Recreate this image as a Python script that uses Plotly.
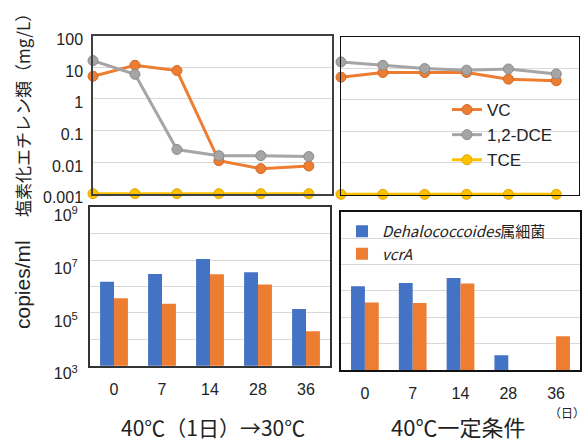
import plotly.graph_objects as go

# ---------------- data ----------------
days = [0, 7, 14, 21, 28, 36]
vc_a = [5.2, 11.6, 7.9, 0.011, 0.0062, 0.0075]
dce_a = [16.3, 6.0, 0.025, 0.016, 0.016, 0.015]
tce_a = [0.001, 0.001, 0.001, 0.001, 0.001, 0.001]
vc_b = [5.2, 7.3, 7.3, 7.3, 4.5, 4.0]
dce_b = [15.8, 12.4, 9.8, 8.7, 9.5, 6.6]
tce_b = [0.001, 0.001, 0.001, 0.001, 0.001, 0.001]

bar_days = ["0", "7", "14", "28", "36"]
dhc_a = [1.5e6, 3.0e6, 1.1e7, 3.5e6, 1.4e5]
vcra_a = [3.6e5, 2.2e5, 2.9e6, 1.2e6, 2.0e4]
dhc_b = [1.5e6, 2.0e6, 3.1e6, 3.6e3, None]
vcra_b = [3.6e5, 3.5e5, 1.9e6, None, 1.9e4]

conc_ticks = [0.001, 0.01, 0.1, 1, 10, 100]
conc_labels = ["0.001", "0.01", "0.1", "1", "10", "100"]
copy_ticks = [1e3, 1e4, 1e5, 1e6, 1e7, 1e8, 1e9]
copy_labels = ["10<sup>3</sup>", "", "10<sup>5</sup>", "", "10<sup>7</sup>", "", "10<sup>9</sup>"]

line_names = ["VC", "1,2-DCE", "TCE"]
bar_names = ["<i>Dehalococcoides</i>属細菌", "<i>vcrA</i>"]

# ---------------- style ----------------
W, H = 586, 442
ORANGE, GRAY, YELLOW, BLUE = "#ED7D31", "#A5A5A5", "#FFC000", "#4472C4"
EDGE = {"#ED7D31": "#D0692A", "#A5A5A5": "#8C8C8C", "#FFC000": "#E0A800"}
NUM_FONT = "Liberation Sans, Arial, sans-serif"
JP_FONT = "Noto Sans CJK JP, sans-serif"


def dx(a, b):
    return [a / W, b / W]


def dy(top, bottom):
    return [1 - bottom / H, 1 - top / H]


fig = go.Figure()

line_sets = [
    ("x", "y", [vc_a, dce_a, tce_a], False),
    ("x2", "y2", [vc_b, dce_b, tce_b], True),
]
for xa, ya, series, show in line_sets:
    for name, vals, col in zip(line_names, series, [ORANGE, GRAY, YELLOW]):
        fig.add_trace(go.Scatter(
            x=days, y=vals, name=name, xaxis=xa, yaxis=ya,
            mode="lines+markers", cliponaxis=False,
            line=dict(color=col, width=3),
            marker=dict(symbol="circle", size=10, color=col,
                        line=dict(color=EDGE[col], width=1)),
            showlegend=show, legend="legend",
        ))

bar_sets = [
    ("x3", "y3", [dhc_a, vcra_a], False),
    ("x4", "y4", [dhc_b, vcra_b], True),
]
for xa, ya, series, show in bar_sets:
    for name, vals, col in zip(bar_names, series, [BLUE, ORANGE]):
        fig.add_trace(go.Bar(
            x=bar_days, y=vals, name=name, xaxis=xa, yaxis=ya,
            marker=dict(color=col, line=dict(width=0)),
            showlegend=show, legend="legend2",
        ))

grid = "#D9D9D9"
common_x_top = dict(range=[0, 39.8], showticklabels=False, ticks="", automargin=False,
                    showgrid=False, zeroline=False, showline=True, mirror=True)
common_y_top = dict(type="log", range=[-3.02, 2], tickvals=conc_ticks, automargin=False,
                    showgrid=True, gridcolor=grid, gridwidth=1, zeroline=False,
                    showline=True, mirror=True, ticks="")
common_x_bot = dict(type="category", showgrid=False, zeroline=False, automargin=False,
                    showline=True, mirror=True, ticks="",
                    tickfont=dict(family=NUM_FONT, size=16, color="#222"),
                    ticklabelstandoff=8)
common_y_bot = dict(type="log", range=[3, 9], tickvals=copy_ticks, automargin=False,
                    showgrid=True, gridcolor=grid, gridwidth=1, zeroline=False,
                    showline=True, mirror=True, ticks="")


def note(text, xp, yp, size, font=JP_FONT, angle=0):
    return dict(text=text, x=xp / W, y=1 - yp / H, xref="paper", yref="paper",
                xanchor="center", yanchor="middle", textangle=angle, showarrow=False,
                font=dict(family=font, size=size, color="#222"))


fig.update_layout(
    width=W, height=H,
    margin=dict(l=0, r=0, t=0, b=0, autoexpand=False),
    paper_bgcolor="white", plot_bgcolor="white",
    barmode="group", bargap=0.42, bargroupgap=0,
    xaxis=dict(domain=dx(93, 331.6), anchor="y", linecolor="#404040", linewidth=1.5, **common_x_top),
    yaxis=dict(domain=dy(35.7, 194.3), anchor="x", ticktext=conc_labels,
               tickfont=dict(family=NUM_FONT, size=16, color="#222"),
               ticklabelstandoff=5, ticklabelshift=4,
               linecolor="#404040", linewidth=1.5, **common_y_top),
    xaxis2=dict(domain=dx(341, 579), anchor="y2", linecolor="#111", linewidth=1, **common_x_top),
    yaxis2=dict(domain=dy(36.7, 195), anchor="x2", showticklabels=False,
                linecolor="#111", linewidth=1, **common_y_top),
    xaxis3=dict(domain=dx(90, 330), anchor="y3", linecolor="#333", linewidth=2, **common_x_bot),
    yaxis3=dict(domain=dy(207.3, 365.7), anchor="x3", ticktext=copy_labels,
                tickfont=dict(family=NUM_FONT, size=16, color="#222"),
                ticklabelstandoff=7, ticklabelshift=8,
                linecolor="#333", linewidth=2, **common_y_bot),
    xaxis4=dict(domain=dx(341, 580), anchor="y4", linecolor="#111", linewidth=1.5, **common_x_bot),
    yaxis4=dict(domain=dy(211.7, 370), anchor="x4", showticklabels=False,
                linecolor="#111", linewidth=1.5, **common_y_bot),
    legend=dict(x=447 / W, y=1 - 92 / H, xanchor="left", yanchor="top",
                bgcolor="rgba(0,0,0,0)", font=dict(family=NUM_FONT, size=17, color="#222"),
                traceorder="normal", itemwidth=30),
    legend2=dict(x=342 / W, y=1 - 215 / H, xanchor="left", yanchor="top",
                 bgcolor="rgba(0,0,0,0)", font=dict(family=JP_FONT, size=15, color="#222"),
                 traceorder="normal"),
    annotations=[
        note("塩素化エチレン類（mg/L）", 22, 111, 17, angle=-90),
        note("copies/ml", 22, 285, 21, font=NUM_FONT, angle=-90),
        note("40℃（1日）→30℃", 213, 427, 21),
        note("40℃一定条件", 458, 426, 22),
        note("（日）", 567, 412, 12),
    ],
)

fig.write_html("out.html", post_script="document.body.style.margin='0';",
               config={"displayModeBar": False})
